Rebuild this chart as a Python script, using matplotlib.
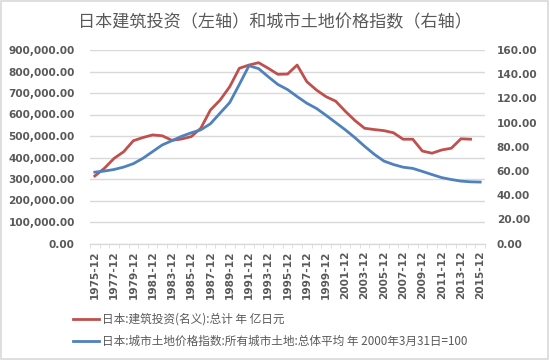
import matplotlib
matplotlib.use("Agg")
import matplotlib.pyplot as plt
import numpy as np
from matplotlib.patches import Rectangle
from matplotlib.ticker import FuncFormatter

# annual data 1975-2015
years = list(range(1975, 2016))
tick_labels = [f"{y}-12" for y in years]

# 日本:建筑投资(名义):总计 年 亿日元 (left axis)
construction = [
    314000, 350000, 396000, 427000, 478000, 493000, 505000, 501000, 480000, 486000,
    497000, 536000, 621000, 667000, 729000, 815000, 830000, 841000, 815000, 787000,
    788000, 830000, 753000, 714000, 683000, 662000, 615000, 572000, 536000, 530000,
    525000, 515000, 485000, 485000, 430000, 420000, 435000, 443000, 487000, 485000,
    np.nan,
]

# 日本:城市土地价格指数 2000年3月31日=100 (right axis)
land_index = [
    59.0, 59.9, 61.2, 63.2, 66.0, 70.5, 76.0, 81.5, 85.0, 88.6,
    91.5, 94.0, 99.0, 107.8, 116.5, 131.5, 147.0, 144.6, 137.9, 131.5,
    127.3, 121.5, 116.0, 111.7, 106.0, 100.0, 94.0, 87.5, 80.4, 73.8,
    68.2, 65.3, 63.1, 62.1, 59.6, 57.0, 54.5, 52.9, 51.6, 51.0,
    50.8,
]

label_red = "日本:建筑投资(名义):总计 年 亿日元"
label_blue = "日本:城市土地价格指数:所有城市土地:总体平均 年 2000年3月31日=100"
title = "日本建筑投资（左轴）和城市土地价格指数（右轴）"

red = "#C0504D"
blue = "#4F81BD"
grey_text = "#595959"
grid_c = "#D9D9D9"

plt.rcParams["font.family"] = ["DejaVu Sans", "Noto Sans CJK SC"]

fig = plt.figure(figsize=(5.5, 3.6), dpi=100)
ax = fig.add_axes([90 / 550, 1 - 243.5 / 360, 395 / 550, 193.5 / 360])
ax2 = ax.twinx()

x = np.arange(len(years))
ln1, = ax.plot(x, construction, color=red, lw=2.0, solid_joinstyle="round")
ln2, = ax2.plot(x, land_index, color=blue, lw=2.0, solid_joinstyle="round")
ax2.set_zorder(ax.get_zorder() + 1)

ax.set_xlim(-0.5, len(years) - 0.5)
ax.set_ylim(0, 900000)
ax.set_yticks(np.arange(0, 900001, 100000))
ax.yaxis.set_major_formatter(FuncFormatter(lambda v, p: f"{v:,.2f}"))
ax2.set_ylim(0, 160)
ax2.set_yticks(np.arange(0, 161, 20))
ax2.yaxis.set_major_formatter(FuncFormatter(lambda v, p: f"{v:.2f}"))

ax.grid(axis="y", color=grid_c, lw=1.0)
ax.set_axisbelow(True)

for a in (ax, ax2):
    for s in ("top", "left", "right"):
        a.spines[s].set_visible(False)
    a.spines["bottom"].set_color(grid_c)

ax.tick_params(axis="y", length=0, pad=11, labelsize=7.6, labelcolor=grey_text)
ax2.tick_params(axis="y", length=0, pad=8.5, labelsize=7.6, labelcolor=grey_text)
for lab in ax.get_yticklabels() + ax2.get_yticklabels():
    lab.set_fontweight("bold")

ax.set_xticks(x[::2])
ax.set_xticklabels(tick_labels[::2], rotation=90, fontsize=7.6, fontweight="bold",
                   color=grey_text)
ax.set_xticks(np.arange(-0.5, len(years)), minor=True)
ax.tick_params(axis="x", which="major", length=0, pad=5)
ax.tick_params(axis="x", which="minor", length=3, color=grid_c)

fig.text(0.5, 1 - 22 / 360, title, ha="center", va="center", fontsize=12.3,
         color=grey_text, family=["Noto Sans CJK SC", "DejaVu Sans"])

leg = fig.legend([ln1, ln2], [label_red, label_blue], loc="upper left",
                 bbox_to_anchor=(73 / 550, 1 - 313 / 360), frameon=False,
                 borderpad=0, borderaxespad=0, handlelength=2.2, handletextpad=0.3,
                 labelspacing=0.75,
                 prop={"family": ["Noto Sans CJK SC", "DejaVu Sans"], "size": 8.4})
for t in leg.get_texts():
    t.set_color(grey_text)

fig.add_artist(Rectangle((0.002, 0.003), 0.995, 0.993, transform=fig.transFigure,
                         fill=False, edgecolor=grid_c, lw=1.2))

fig.savefig("out.png", dpi=100, facecolor="white")
